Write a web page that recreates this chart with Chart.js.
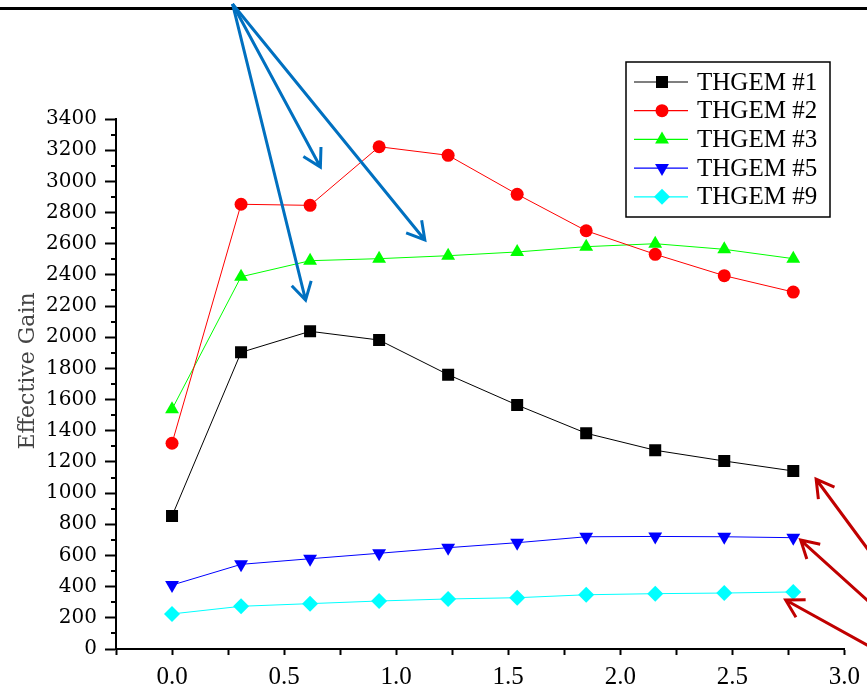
<!DOCTYPE html>
<html>
<head>
<meta charset="utf-8">
<script src="https://cdn.jsdelivr.net/npm/chart.js@4/dist/chart.umd.min.js"></script>
<style>
  html, body { margin: 0; padding: 0; background: #fff; }
  #wrap { position: relative; width: 867px; height: 690px; }
</style>
</head>
<body>
<div id="wrap"><canvas id="gainChart" width="867" height="690"></canvas></div>
<script>
// --------------------
// Data
// --------------------
const xValues = [0, 0.308, 0.616, 0.924, 1.232, 1.54, 1.848, 2.156, 2.464, 2.772];

const thgem1 = [853, 1903, 2038, 1982, 1760, 1565, 1384, 1275, 1206, 1142];
const thgem2 = [1320, 2853, 2846, 3222, 3167, 2917, 2683, 2532, 2395, 2290];
const thgem3 = [1538, 2388, 2491, 2504, 2523, 2547, 2581, 2600, 2564, 2504];
const thgem5 = [410, 543, 579, 614, 650, 682, 720, 722, 720, 714];
const thgem9 = [225, 274, 291, 308, 321, 329, 348, 355, 359, 366];

const seriesNames = ["THGEM #1", "THGEM #2", "THGEM #3", "THGEM #5", "THGEM #9"];
const yTitle = "Effective Gain";

// annotation arrows, in data units [fromX, fromY, toX, toY]
const blueArrows = [
  [0.270, 4138, 0.662, 3092],
  [0.270, 4138, 1.128, 2624],
  [0.270, 4138, 0.596, 2238]
];
const redArrows = [
  [3.120, 610, 2.874, 1089],
  [3.120, 290, 2.805, 699],
  [3.120, 10, 2.738, 314]
];

const toPoints = ys => ys.map((y, i) => ({ x: xValues[i], y }));

function makeSet(label, ys, color, style, radius, rotation) {
  return {
    label,
    data: toPoints(ys),
    borderColor: color,
    backgroundColor: color,
    borderWidth: 1,
    pointStyle: style,
    pointRadius: radius,
    pointHoverRadius: radius,
    pointRotation: rotation || 0,
    pointBackgroundColor: color,
    pointBorderColor: color,
    pointBorderWidth: 0,
    tension: 0
  };
}

// --------------------
// Small drawing helpers
// --------------------
function drawMarker(ctx, style, x, y, r, rot, color) {
  ctx.save();
  ctx.fillStyle = color;
  ctx.translate(x, y);
  ctx.rotate((rot || 0) * Math.PI / 180);
  ctx.beginPath();
  if (style === "rect") {
    const s = Math.SQRT1_2 * r;
    ctx.rect(-s, -s, 2 * s, 2 * s);
  } else if (style === "circle") {
    ctx.arc(0, 0, r, 0, Math.PI * 2);
  } else if (style === "triangle") {
    for (let k = 0; k < 3; k++) {
      const a = k * 2 * Math.PI / 3;
      const px = Math.sin(a) * r, py = -Math.cos(a) * r;
      if (k === 0) ctx.moveTo(px, py); else ctx.lineTo(px, py);
    }
    ctx.closePath();
  } else if (style === "rectRot") {
    ctx.moveTo(0, -r); ctx.lineTo(r, 0); ctx.lineTo(0, r); ctx.lineTo(-r, 0);
    ctx.closePath();
  }
  ctx.fill();
  ctx.restore();
}

function drawArrow(ctx, x1, y1, x2, y2, color, width) {
  const ang = Math.atan2(y2 - y1, x2 - x1);
  const head = 20, spread = Math.PI / 6;
  ctx.save();
  ctx.strokeStyle = color;
  ctx.lineWidth = width;
  ctx.lineCap = "butt";
  ctx.lineJoin = "miter";
  ctx.beginPath();
  ctx.moveTo(x1, y1);
  ctx.lineTo(x2, y2);
  ctx.moveTo(x2 - head * Math.cos(ang - spread), y2 - head * Math.sin(ang - spread));
  ctx.lineTo(x2, y2);
  ctx.lineTo(x2 - head * Math.cos(ang + spread), y2 - head * Math.sin(ang + spread));
  ctx.stroke();
  ctx.restore();
}

// --------------------
// Extras: minor ticks, axis title, legend, arrows
// --------------------
const extrasPlugin = {
  id: "extras",
  afterDraw(chart) {
    const ctx = chart.ctx;
    const xs = chart.scales.x, ys = chart.scales.y;
    const area = chart.chartArea;

    // top rule
    ctx.save();
    ctx.fillStyle = "#000";
    ctx.fillRect(0, 7, chart.width, 3);
    ctx.restore();

    // minor y ticks
    ctx.save();
    ctx.strokeStyle = "#000";
    ctx.lineWidth = 2;
    ctx.beginPath();
    for (let v = 100; v < 3400; v += 200) {
      const py = Math.round(ys.getPixelForValue(v));
      ctx.moveTo(area.left - 5, py);
      ctx.lineTo(area.left, py);
    }
    ctx.stroke();
    ctx.restore();

    // y title
    ctx.save();
    ctx.translate(28, 371);
    ctx.rotate(-Math.PI / 2);
    ctx.fillStyle = "#444";
    ctx.font = '22px "DejaVu Serif"';
    ctx.textAlign = "center";
    ctx.textBaseline = "middle";
    ctx.fillText(yTitle, 0, 0);
    ctx.restore();

    // legend
    const lx = 626, ly = 62, lw = 204, lh = 155;
    ctx.save();
    ctx.fillStyle = "#fff";
    ctx.fillRect(lx, ly, lw, lh);
    ctx.strokeStyle = "#000";
    ctx.lineWidth = 1.5;
    ctx.strokeRect(lx, ly, lw, lh);
    ctx.font = '25px "Liberation Serif"';
    ctx.textBaseline = "middle";
    ctx.textAlign = "left";
    chart.data.datasets.forEach((ds, i) => {
      const cy = ly + 20 + i * 28.7;
      ctx.strokeStyle = ds.borderColor;
      ctx.lineWidth = 1.2;
      ctx.beginPath();
      ctx.moveTo(lx + 8, cy);
      ctx.lineTo(lx + 62, cy);
      ctx.stroke();
      drawMarker(ctx, ds.pointStyle, lx + 36, cy, ds.pointRadius, ds.pointRotation, ds.pointBackgroundColor);
      ctx.fillStyle = "#000";
      ctx.fillText(ds.label, lx + 71, cy + 1);
    });
    ctx.restore();

    // annotation arrows
    const px = v => xs.getPixelForValue(v), py = v => ys.getPixelForValue(v);
    blueArrows.forEach(a => drawArrow(ctx, px(a[0]), py(a[1]), px(a[2]), py(a[3]), "#0070c0", 3));
    redArrows.forEach(a => drawArrow(ctx, px(a[0]), py(a[1]), px(a[2]), py(a[3]), "#c00000", 3));
  }
};

// --------------------
// Chart
// --------------------
const ctx = document.getElementById("gainChart").getContext("2d");
new Chart(ctx, {
  type: "line",
  data: {
    datasets: [
      makeSet(seriesNames[0], thgem1, "#000000", "rect", 8.5, 0),
      makeSet(seriesNames[1], thgem2, "#ff0000", "circle", 6.5, 0),
      makeSet(seriesNames[2], thgem3, "#00ff00", "triangle", 8, 0),
      makeSet(seriesNames[3], thgem5, "#0000ff", "triangle", 8, 180),
      makeSet(seriesNames[4], thgem9, "#00ffff", "rectRot", 8, 0)
    ]
  },
  options: {
    responsive: false,
    animation: false,
    layout: { padding: { top: 119, right: 18, left: 0, bottom: 0 } },
    plugins: { legend: { display: false }, tooltip: { enabled: false } },
    scales: {
      x: {
        type: "linear",
        min: -0.25,
        max: 3.0,
        afterFit: s => { s.height = 41; },
        ticks: {
          stepSize: 0.25,
          autoSkip: false,
          maxRotation: 0,
          padding: 7,
          color: "#000",
          font: { family: "Liberation Serif", size: 25 },
          callback: v => (v >= 0 && Math.abs(v * 2 - Math.round(v * 2)) < 1e-6) ? v.toFixed(1) : ""
        },
        grid: { drawOnChartArea: false, tickLength: 6, tickWidth: 2, tickColor: "#000" },
        border: { color: "#000", width: 2 }
      },
      y: {
        min: 0,
        max: 3400,
        afterFit: s => { s.width = 116; },
        ticks: {
          stepSize: 200,
          padding: 8,
          color: "#000",
          font: { family: "DejaVu Serif", size: 20 },
          callback: v => String(v)
        },
        grid: { drawOnChartArea: false, tickLength: 11, tickWidth: 2, tickColor: "#000" },
        border: { color: "#000", width: 2 }
      }
    }
  },
  plugins: [extrasPlugin]
});
</script>
</body>
</html>
